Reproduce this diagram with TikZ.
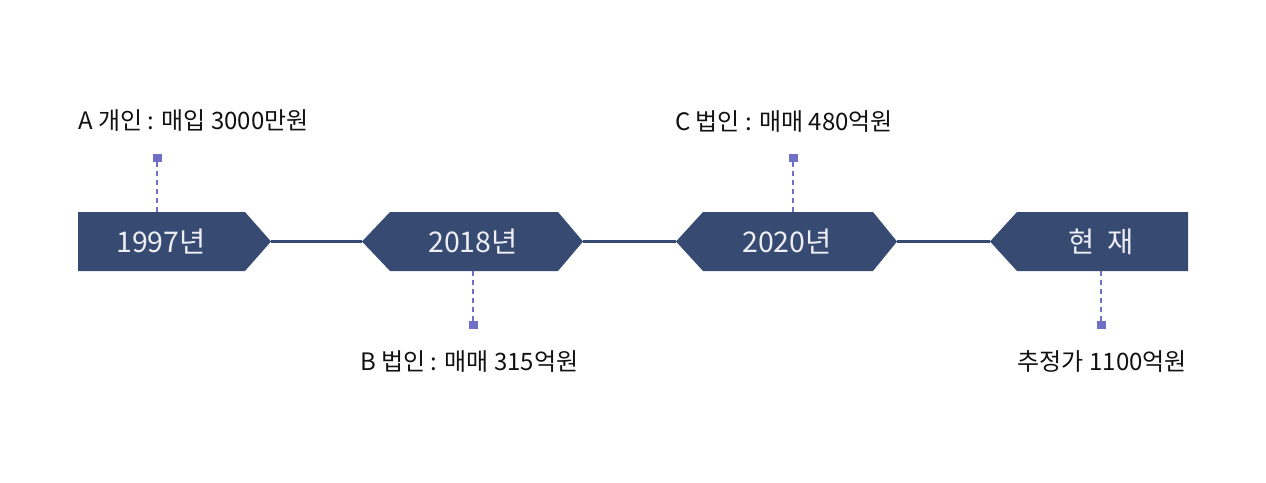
\documentclass[tikz,border=0pt]{standalone}
\usepackage{fontspec}
\setmainfont{Noto Sans CJK KR}
\definecolor{navy}{HTML}{374A72}
\definecolor{pin}{HTML}{6F6FC6}
\definecolor{yeartxt}{HTML}{EEEEF4}
\definecolor{lbl}{HTML}{111111}
\begin{document}
\begin{tikzpicture}[x=1pt,y=-1pt,
  yearbox/.style={fill=navy},
  yeartext/.style={text=yeartxt,font=\fontsize{28.5}{32}\selectfont,inner sep=0pt},
  lbltext/.style={text=lbl,font=\fontsize{24}{28}\selectfont,inner sep=0pt},
  axis/.style={draw=navy,line width=3.2pt},
  pinline/.style={draw=pin,line width=1.6pt,dash pattern=on 5pt off 4pt},
  pinsq/.style={fill=pin,draw=none,minimum width=9pt,minimum height=8pt,inner sep=0pt}]
\useasboundingbox (0,0) rectangle (1266,482);
% boxes
\fill[yearbox] (78,212) -- (245,212) -- (271,241.5) -- (245,271) -- (78,271) -- cycle;
\fill[yearbox] (362,241.5) -- (390,212) -- (558,212) -- (583,241.5) -- (558,271) -- (390,271) -- cycle;
\fill[yearbox] (676,241.5) -- (703,212) -- (873,212) -- (897,241.5) -- (873,271) -- (703,271) -- cycle;
\fill[yearbox] (990,241.5) -- (1017,212) -- (1188,212) -- (1188,271) -- (1017,271) -- cycle;
% tips
\coordinate (t1e) at (271,241.5);
\coordinate (t2w) at (362,241.5);
\coordinate (t2e) at (583,241.5);
\coordinate (t3w) at (676,241.5);
\coordinate (t3e) at (897,241.5);
\coordinate (t4w) at (990,241.5);
\draw[axis] (t1e) -- (t2w);
\draw[axis] (t2e) -- (t3w);
\draw[axis] (t3e) -- (t4w);
% year texts
\node[yeartext] (y1) at (161,241.5) {1997년};
\node[yeartext] (y2) at (473,241.5) {2018년};
\node[yeartext] (y3) at (787,241.5) {2020년};
\node[yeartext] (y4) at (1101,241.5) {현\hspace{0.45em}재};
% box edge coordinates
\coordinate (b1) at (157,212);
\coordinate (b2) at (473,271);
\coordinate (b3) at (793,212);
\coordinate (b4) at (1101,271);
% pins
\node[pinsq] (s1) at (157,158) {};
\node[pinsq] (s2) at (473,325) {};
\node[pinsq] (s3) at (793,158) {};
\node[pinsq] (s4) at (1101,325) {};
\draw[pinline] (s1.south) -- (b1);
\draw[pinline] (b2) -- (s2.north);
\draw[pinline] (s3.south) -- (b3);
\draw[pinline] (b4) -- (s4.north);
% labels
\node[lbltext,anchor=west] (la) at (78,121) {A 개인 : 매입 3000만원};
\node[lbltext,anchor=west] (lb) at (360,362) {B 법인 : 매매 315억원};
\node[lbltext,anchor=west] (lc) at (675,122) {C 법인 : 매매 480억원};
\node[lbltext,anchor=east] (ld) at (1187,362) {추정가 1100억원};
\end{tikzpicture}
\end{document}
